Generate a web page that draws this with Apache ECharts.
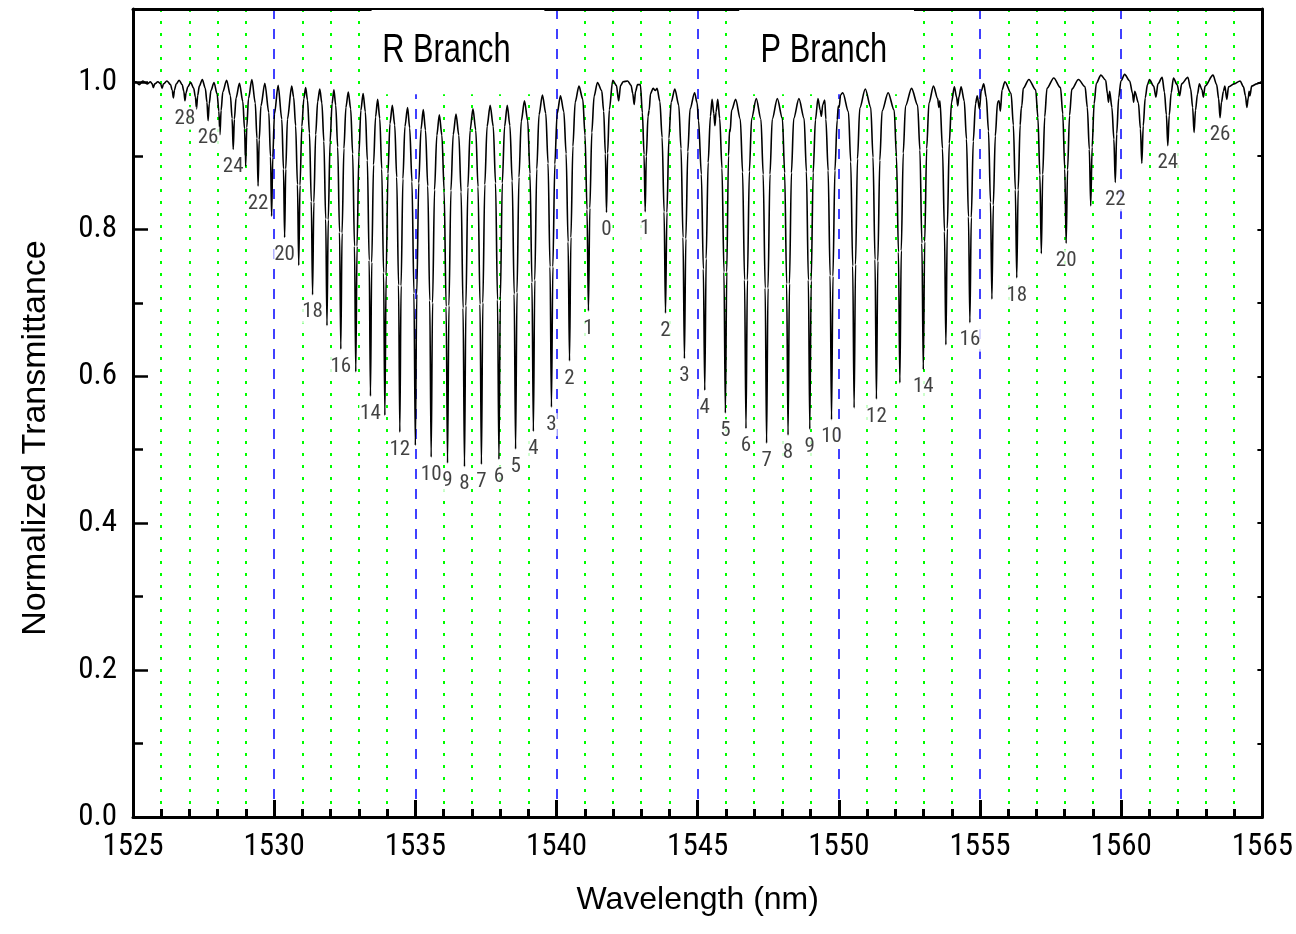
<!DOCTYPE html>
<html><head><meta charset="utf-8">
<script src="https://cdn.jsdelivr.net/npm/echarts@6/dist/echarts.min.js"></script>
<style>html,body{margin:0;padding:0;background:#fff}#c{width:1296px;height:934px}</style>
</head><body><div id="c"></div>
<script>
// Wavelength (nm), normalized transmittance
const rBranchSpectrum = [
[1525.00,.998],[1525.10,1.001],[1525.22,.997],[1525.35,1.002],[1525.50,.998],[1525.62,1.001],[1525.68,.998],[1525.72,.993],[1525.77,.998],[1525.88,1.001],[1525.98,.998],[1526.03,.992],[1526.08,.998],[1526.20,1.002],
[1526.33,.997],[1526.39,.989],[1526.43,.979],[1526.47,.990],[1526.53,.998],[1526.635,1.003],
[1526.74,.997],[1526.80,.988],[1526.84,.975],[1526.88,.986],[1526.94,.994],[1527.045,1.000],
[1527.15,.992],[1527.21,.980],[1527.25,.964],[1527.29,.982],[1527.35,.995],[1527.455,1.004],
[1527.56,.992],[1527.62,.973],[1527.66,.948],[1527.70,.971],[1527.76,.989],[1527.87,1.000],
[1527.98,.984],[1528.04,.961],[1528.08,.929],[1528.12,.962],[1528.18,.987],[1528.315,1.003],
[1528.45,.982],[1528.51,.951],[1528.55,.909],[1528.59,.950],[1528.65,.979],[1528.77,.999],
[1528.89,.974],[1528.95,.937],[1528.99,.886],[1529.03,.939],[1529.09,.978],[1529.21,1.004],
[1529.33,.972],[1529.39,.924],[1529.43,.859],[1529.47,.922],[1529.53,.968],[1529.67,.999],
[1529.81,.959],[1529.87,.899],[1529.91,.818],[1529.95,.898],[1530.01,.957],[1530.14,.996],
[1530.27,.950],[1530.33,.882],[1530.37,.789],[1530.41,.882],[1530.47,.950],[1530.62,.995],
[1530.69,.980],[1530.76,.941],[1530.825,.861],[1530.87,.751],[1530.915,.860],[1530.98,.940],[1531.05,.978],[1531.115,.993],
[1531.18,.976],[1531.25,.931],[1531.315,.838],[1531.36,.711],[1531.405,.837],[1531.47,.929],[1531.54,.974],[1531.615,.991],
[1531.69,.972],[1531.76,.920],[1531.825,.814],[1531.87,.669],[1531.915,.813],[1531.98,.919],[1532.05,.971],[1532.115,.990],
[1532.18,.969],[1532.25,.912],[1532.315,.796],[1532.36,.637],[1532.405,.795],[1532.47,.910],[1532.54,.966],[1532.625,.987],
[1532.71,.964],[1532.78,.903],[1532.845,.777],[1532.89,.606],[1532.935,.777],[1533.00,.902],[1533.07,.962],[1533.15,.985],
[1533.23,.960],[1533.30,.894],[1533.365,.758],[1533.41,.573],[1533.455,.755],[1533.52,.888],[1533.59,.953],[1533.665,.977],
[1533.74,.951],[1533.81,.882],[1533.875,.741],[1533.92,.547],[1533.965,.737],[1534.03,.876],[1534.10,.944],[1534.185,.969],
[1534.27,.942],[1534.34,.871],[1534.405,.724],[1534.45,.524],[1534.495,.723],[1534.56,.869],[1534.63,.940],[1534.725,.966],
[1534.80,.938],[1534.88,.865],[1534.95,.713],[1535.00,.506],[1535.05,.712],[1535.12,.863],[1535.20,.936],[1535.28,.963],
[1535.36,.935],[1535.44,.859],[1535.51,.703],[1535.56,.490],[1535.61,.700],[1535.68,.854],[1535.76,.928],[1535.85,.956],
[1535.94,.928],[1536.02,.852],[1536.09,.695],[1536.14,.482],[1536.19,.696],[1536.26,.853],[1536.34,.929],[1536.44,.957],
[1536.54,.928],[1536.62,.851],[1536.69,.693],[1536.74,.477],[1536.79,.696],[1536.86,.857],[1536.94,.935],[1537.04,.964],
[1537.14,.935],[1537.22,.858],[1537.29,.698],[1537.34,.480],[1537.39,.700],[1537.46,.861],[1537.54,.940],[1537.65,.969],
[1537.76,.940],[1537.84,.863],[1537.91,.704],[1537.96,.487],[1538.01,.704],[1538.08,.863],[1538.16,.940],[1538.255,.969],
[1538.35,.941],[1538.43,.866],[1538.50,.712],[1538.55,.501],[1538.60,.714],[1538.67,.871],[1538.75,.947],[1538.865,.975],
[1538.98,.948],[1539.06,.876],[1539.13,.728],[1539.18,.525],[1539.23,.731],[1539.30,.882],[1539.38,.956],[1539.50,.983],
[1539.62,.958],[1539.70,.890],[1539.77,.749],[1539.82,.558],[1539.87,.749],[1539.94,.889],[1540.02,.957],[1540.14,.982],
[1540.26,.960],[1540.34,.903],[1540.41,.783],[1540.46,.621],[1540.51,.789],[1540.58,.913],[1540.66,.973],[1540.795,.995],
[1540.93,.977],[1541.01,.928],[1541.08,.827],[1541.13,.689],[1541.18,.829],[1541.25,.932],[1541.33,.981],[1541.45,1.000],
[1541.60,.989],[1541.67,.961],[1541.73,.903],[1541.77,.823],[1541.81,.904],[1541.87,.963],[1541.99,1.003]
];
const centerSpectrum = [
[1542.12,.996],[1542.20,.975],[1542.27,.996],[1542.36,1.001],[1542.52,1.002],[1542.64,.996],[1542.70,.985],[1542.75,.970],[1542.80,.988],[1542.87,.997],[1542.97,.997]
];
const pBranchSpectrum = [
[1543.04,.959],[1543.10,.902],[1543.14,.824],[1543.18,.899],[1543.24,.954],[1543.28,.962],[1543.33,.985],[1543.42,.992],[1543.50,.989],[1543.56,.992],
[1543.66,.974],[1543.74,.925],[1543.81,.824],[1543.86,.686],[1543.91,.823],[1543.98,.924],[1544.06,.973],[1544.19,.991],
[1544.33,.969],[1544.41,.910],[1544.48,.789],[1544.53,.624],[1544.58,.787],[1544.65,.906],[1544.73,.964],[1544.89,.986],[1544.98,.972],[1545.03,.948],
[1545.13,.875],[1545.20,.746],[1545.25,.581],[1545.30,.760],[1545.37,.891],[1545.45,.954],[1545.51,.977],[1545.57,.958],[1545.61,.941],[1545.65,.960],[1545.71,.977],
[1545.78,.951],[1545.86,.883],[1545.93,.742],[1545.98,.550],[1546.03,.742],[1546.09,.900],[1546.13,.936],[1546.15,.933],[1546.20,.962],[1546.345,.977],
[1546.51,.950],[1546.59,.878],[1546.66,.731],[1546.71,.529],[1546.76,.731],[1546.83,.879],[1546.91,.951],[1547.075,.978],
[1547.24,.950],[1547.32,.875],[1547.39,.720],[1547.44,.509],[1547.49,.720],[1547.56,.875],[1547.64,.950],[1547.82,.978],
[1548.00,.951],[1548.08,.877],[1548.15,.726],[1548.20,.520],[1548.25,.726],[1548.32,.877],[1548.40,.951],[1548.585,.978],
[1548.77,.951],[1548.85,.879],[1548.92,.731],[1548.97,.528],[1549.02,.730],[1549.09,.877],[1549.17,.949],[1549.26,.978],[1549.34,.962],[1549.38,.954],[1549.43,.970],[1549.50,.976],
[1549.54,.950],[1549.62,.880],[1549.69,.737],[1549.74,.541],[1549.79,.736],[1549.86,.880],[1549.94,.949],[1549.98,.968],[1550.01,.966],[1550.06,.983],[1550.14,.986],
[1550.34,.960],[1550.42,.892],[1550.49,.750],[1550.54,.557],[1550.59,.752],[1550.66,.896],[1550.74,.965],[1550.935,.991],
[1551.13,.966],[1551.21,.898],[1551.28,.759],[1551.33,.569],[1551.38,.757],[1551.45,.894],[1551.53,.961],[1551.745,.986],
[1551.96,.962],[1552.04,.899],[1552.11,.769],[1552.16,.591],[1552.21,.771],[1552.28,.904],[1552.36,.968],[1552.575,.992],
[1552.79,.969],[1552.87,.908],[1552.94,.781],[1552.99,.609],[1553.04,.783],[1553.11,.910],[1553.19,.972],[1553.35,.995],[1553.50,.978],[1553.54,.966],[1553.58,.975],
[1553.67,.910],[1553.74,.797],[1553.79,.643],[1553.84,.801],[1553.91,.917],[1553.99,.973],[1554.09,.994],[1554.17,.980],[1554.21,.968],[1554.25,.980],[1554.33,.994],
[1554.44,.975],[1554.52,.923],[1554.59,.817],[1554.64,.673],[1554.69,.816],[1554.76,.920],[1554.84,.971],[1554.90,.982],[1554.98,.964],[1555.04,.988],[1555.13,.998],
[1555.22,.980],[1555.30,.934],[1555.37,.837],[1555.42,.705],[1555.47,.833],[1555.54,.927],[1555.62,.973],[1555.67,.975],[1555.72,.961],[1555.78,.990],[1555.88,1.001],
[1556.10,.985],[1556.18,.942],[1556.25,.854],[1556.30,.734],[1556.35,.854],[1556.42,.942],[1556.46,.965],[1556.48,.968],[1556.53,.992],[1556.73,1.004],
[1556.97,.990],[1557.05,.952],[1557.12,.874],[1557.17,.767],[1557.22,.875],[1557.29,.953],[1557.37,.992],[1557.61,1.006],
[1557.85,.993],[1557.93,.957],[1558.00,.882],[1558.05,.781],[1558.10,.881],[1558.17,.955],[1558.25,.991],[1558.485,1.004],
[1558.72,.994],[1558.80,.966],[1558.87,.909],[1558.92,.832],[1558.97,.912],[1559.04,.971],[1559.12,.999],[1559.28,1.010],[1559.45,1.003],[1559.51,.985],[1559.55,.973],[1559.59,.988],
[1559.67,.966],[1559.74,.923],[1559.79,.864],[1559.84,.930],[1559.91,.979],[1559.99,1.002],[1560.12,1.011],[1560.30,1.002],[1560.40,.985],[1560.44,.973],[1560.48,.988],
[1560.61,.972],[1560.68,.937],[1560.73,.890],[1560.78,.941],[1560.85,.979],[1560.93,.997],[1561.00,1.004],[1561.15,.995],[1561.23,.980],[1561.30,.998],[1561.45,1.007],
[1561.53,.987],[1561.60,.956],[1561.65,.914],[1561.70,.955],[1561.77,.986],[1561.85,1.006],[1561.98,.997],[1562.07,.982],[1562.14,.998],[1562.36,1.007],
[1562.46,.991],[1562.53,.966],[1562.58,.932],[1562.63,.962],[1562.70,.984],[1562.77,.998],[1562.86,.990],[1562.91,.980],[1562.97,.995],[1563.25,1.010],
[1563.38,.997],[1563.45,.978],[1563.50,.952],[1563.55,.973],[1563.62,.988],[1563.67,.995],[1563.74,.977],[1563.80,.994],[1564.00,.998],[1564.21,1.002],
[1564.33,.994],[1564.40,.982],[1564.45,.966],[1564.50,.979],[1564.53,.988],[1564.56,.982],[1564.62,.995],[1564.80,.998],[1564.98,1.001],[1565.00,1.000]
];
// Rotational line labels: [wavelength of line minimum, transmittance at minimum, J]
const rBranchLabels = [
[1526.84,.975,'28'],[1527.66,.948,'26'],[1528.55,.909,'24'],[1529.43,.859,'22'],[1530.37,.789,'20'],[1531.36,.711,'18'],[1532.36,.637,'16'],[1533.41,.573,'14'],[1534.45,.524,'12'],[1535.56,.490,'10'],[1536.14,.482,'9'],[1536.74,.477,'8'],[1537.34,.480,'7'],[1537.96,.487,'6'],[1538.55,.501,'5'],[1539.18,.525,'4'],[1539.82,.558,'3'],[1540.46,.621,'2'],[1541.13,.689,'1'],[1541.77,.823,'0']
];
const pBranchLabels = [
[1543.14,.824,'1'],[1543.86,.686,'2'],[1544.53,.624,'3'],[1545.25,.581,'4'],[1545.98,.550,'5'],[1546.71,.529,'6'],[1547.44,.509,'7'],[1548.20,.520,'8'],[1548.97,.528,'9'],[1549.74,.541,'10'],[1551.33,.569,'12'],[1552.99,.609,'14'],[1554.64,.673,'16'],[1556.30,.734,'18'],[1558.05,.781,'20'],[1559.79,.864,'22'],[1561.65,.914,'24'],[1563.50,.952,'26']
];
const branchNames = ['R Branch','P Branch'];

const NARROW = "'Roboto Condensed','Liberation Sans',sans-serif";
const SANS = "'Liberation Sans',Arial,sans-serif";
const spectrum = rBranchSpectrum.concat(centerSpectrum, pBranchSpectrum);
const lineLabels = rBranchLabels.concat(pBranchLabels).map(d => ({value:[d[0], d[1]], name:d[2]}));

const chart = echarts.init(document.getElementById('c'), null, {renderer:'canvas'});
chart.setOption({
  animation:false,
  backgroundColor:'#fff',
  grid:{left:133,right:33,top:9,bottom:117},
  xAxis:[{
    type:'value',min:1525,max:1565,interval:5,position:'bottom',
    name:'Wavelength (nm)',nameLocation:'middle',nameGap:67,
    nameTextStyle:{fontFamily:SANS,fontSize:32,color:'#000'},
    axisLine:{onZero:false,lineStyle:{color:'#000',width:3}},
    axisTick:{inside:true,length:17,lineStyle:{color:'#000',width:3}},
    minorTick:{show:true,splitNumber:5,length:8,lineStyle:{color:'#000',width:3}},
    axisLabel:{fontFamily:NARROW,fontSize:31,color:'#000',margin:15,formatter:v=>String(v)},
    splitLine:{show:true,lineStyle:{color:'#0000ff',width:1.5,type:[10,10]}},
    minorSplitLine:{show:true,lineStyle:{color:'#00ff00',width:2,type:[3,9]}}
  },{
    type:'value',min:1525,max:1565,position:'top',
    axisLine:{onZero:false,lineStyle:{color:'#000',width:3}},
    axisTick:{show:false},axisLabel:{show:false},splitLine:{show:false}
  }],
  yAxis:[{
    type:'value',min:0,max:1.1,interval:0.2,position:'left',
    name:'Normalized Transmittance',nameLocation:'middle',nameGap:80,
    nameTextStyle:{fontFamily:SANS,fontSize:34,color:'#000',padding:[0,50,0,0]},
    axisLine:{onZero:false,lineStyle:{color:'#000',width:3}},
    axisTick:{inside:true,length:15,lineStyle:{color:'#000',width:2.5}},
    minorTick:{show:true,splitNumber:2,length:10,lineStyle:{color:'#000',width:2.5}},
    axisLabel:{fontFamily:NARROW,fontSize:31,color:'#000',margin:16,showMaxLabel:false,formatter:v=>v.toFixed(1)},
    splitLine:{show:false}
  },{
    type:'value',min:0,max:1.1,interval:0.1,position:'right',
    axisLine:{onZero:false,lineStyle:{color:'#000',width:3}},
    axisTick:{inside:true,length:5,lineStyle:{color:'#000',width:2}},
    axisLabel:{show:false},splitLine:{show:false}
  }],
  series:[{
    type:'line',data:spectrum,symbol:'none',smooth:0.3,smoothMonotone:'x',
    lineStyle:{color:'#000',width:1.6},z:2,silent:true
  },{
    type:'scatter',data:lineLabels,symbolSize:0,z:3,silent:true,
    label:{show:true,position:'bottom',distance:6,formatter:'{b}',fontFamily:NARROW,fontSize:21,color:'#111',backgroundColor:'#fff',padding:[1,1]}
  }]
});

// White boxes behind the branch titles (hide the grid lines), placed through the axis scales
const toPx = v => chart.convertToPixel({xAxisIndex:0, yAxisIndex:0}, v);
function boxRect(x0, x1, y0, y1) {
  const a = toPx([x0, y1]), b = toPx([x1, y0]);
  return {x:a[0], y:a[1], width:b[0]-a[0], height:b[1]-a[1]};
}
const rText = toPx([1536.10, 1.0426]);
const pText = toPx([1549.47, 1.0426]);
chart.setOption({
  graphic:[
    {type:'rect', z:1, silent:true, shape:boxRect(1533.45, 1539.57, 0.984, 1.0985), style:{fill:'#fff'}},
    {type:'rect', z:1, silent:true, shape:boxRect(1546.47, 1552.66, 0.984, 1.0985), style:{fill:'#fff'}},
    {type:'text', z:5, silent:true, x:rText[0], y:rText[1], scaleX:0.77,
      style:{text:branchNames[0], font:"40px 'Liberation Sans'", fill:'#000', textAlign:'center', textVerticalAlign:'middle'}},
    {type:'text', z:5, silent:true, x:pText[0], y:pText[1], scaleX:0.77,
      style:{text:branchNames[1], font:"40px 'Liberation Sans'", fill:'#000', textAlign:'center', textVerticalAlign:'middle'}}
  ]
});
</script></body></html>
